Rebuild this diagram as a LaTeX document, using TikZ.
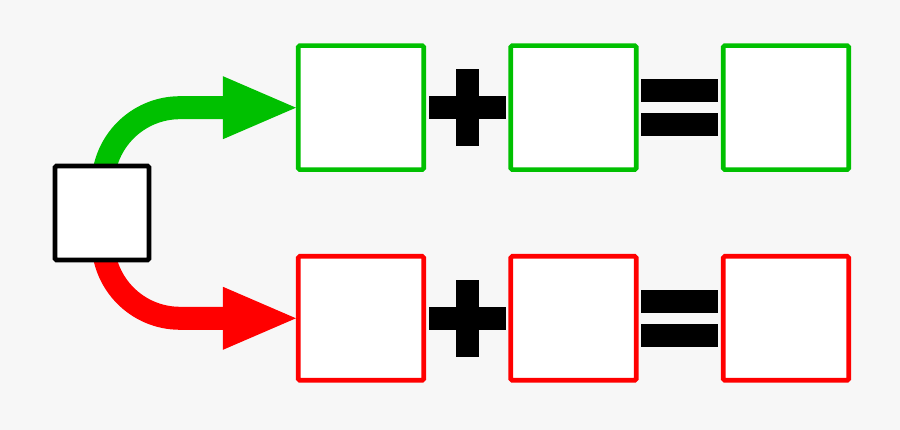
\documentclass[tikz,border=0pt]{standalone}
\usetikzlibrary{arrows.meta,backgrounds}
\definecolor{bgc}{HTML}{F7F7F7}
\definecolor{grn}{HTML}{00C000}
\definecolor{rdc}{HTML}{FF0000}
\begin{document}
\begin{tikzpicture}[x=1pt,y=1pt,
  box/.style={draw,line width=4.6pt,fill=white,minimum width=125.5pt,minimum height=124pt,rounded corners=1.5pt,inner sep=0pt},
  srcbox/.style={draw=black,line width=4.7pt,fill=white,minimum width=94pt,minimum height=94pt,rounded corners=1.5pt,inner sep=0pt},
  barh/.style={fill=black,draw=none,minimum width=77pt,minimum height=23pt,inner sep=0pt},
  barv/.style={fill=black,draw=none,minimum width=23pt,minimum height=77pt,inner sep=0pt},
  flow/.style={line width=23pt,-{Triangle[length=73pt,width=63pt,line width=0pt]}}
]
\useasboundingbox (0,0) rectangle (900,430);
% source box
\node[srcbox] (k) at (102,217) {};
% top row
\node[box,draw=grn] (g1) at (361,322.3) {};
\node[box,draw=grn] (g2) at (573.5,322.3) {};
\node[box,draw=grn] (g3) at (786,322.3) {};
% bottom row
\node[box,draw=rdc] (r1) at (361,111.7) {};
\node[box,draw=rdc] (r2) at (573.5,111.7) {};
\node[box,draw=rdc] (r3) at (786,111.7) {};
% plus signs
\node[barh] (gph) at (467,322.3) {};
\node[barv] (gpv) at (467,322.3) {};
\node[barh] (rph) at (467,111.7) {};
\node[barv] (rpv) at (467,111.7) {};
% equals signs
\node[barh] (ge1) at (679,339.5) {};
\node[barh] (ge2) at (679,305) {};
\node[barh] (re1) at (679,128.7) {};
\node[barh] (re2) at (679,94.3) {};
% arrows, behind the source box
\begin{scope}[on background layer]
\fill[bgc] (0,0) rectangle (900,430);
\draw[flow,grn] ([xshift=1pt]k.center) -- ++(0,28.3) arc[start angle=180,end angle=90,radius=77] -- (g1.west);
\draw[flow,rdc] ([xshift=1pt]k.center) -- ++(0,-28.3) arc[start angle=180,end angle=270,radius=77] -- (r1.west);
\end{scope}
\end{tikzpicture}
\end{document}
